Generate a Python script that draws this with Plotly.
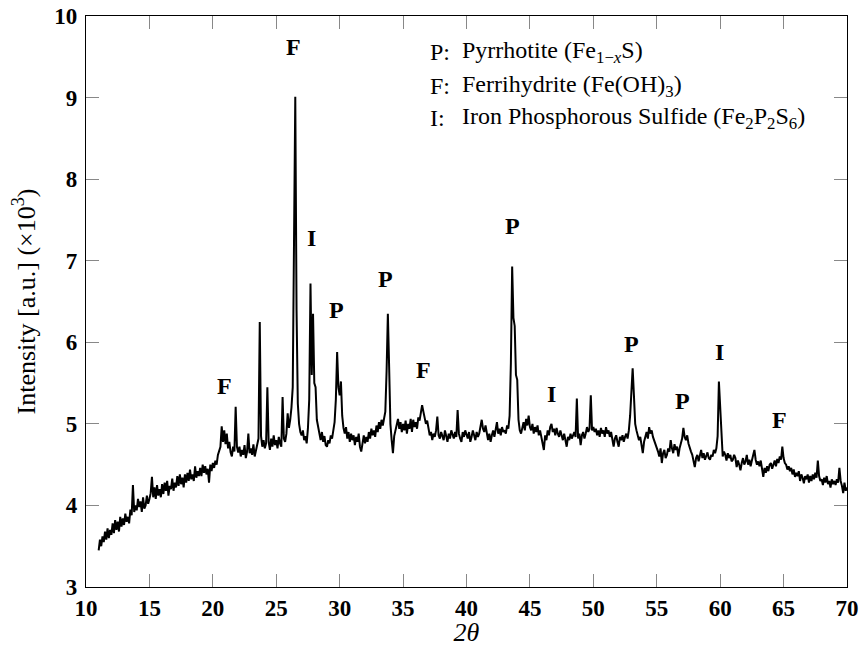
import plotly.graph_objects as go

# Diffractometer scan grid (2θ in degrees)
scan_start = 11.0
scan_step = 0.1

# Intensity (×10^3 a.u.), one row per degree (x.0 ... x.9)
intensity = [
    3.45, 3.58, 3.50, 3.62, 3.55, 3.68, 3.58, 3.72, 3.60, 3.70,   # 11
    3.64, 3.78, 3.66, 3.82, 3.70, 3.80, 3.68, 3.86, 3.74, 3.84,   # 12
    3.76, 3.90, 3.80, 3.86, 3.78, 3.95, 3.88, 4.25, 3.92, 4.00,   # 13
    3.94, 4.08, 3.98, 4.05, 3.92, 4.10, 3.96, 4.00, 4.12, 4.02,   # 14
    4.08, 4.15, 4.35, 4.10, 4.22, 4.08, 4.25, 4.12, 4.20, 4.10,   # 15
    4.26, 4.14, 4.28, 4.18, 4.30, 4.12, 4.24, 4.20, 4.33, 4.18,   # 16
    4.28, 4.22, 4.36, 4.24, 4.38, 4.26, 4.34, 4.22, 4.38, 4.28,   # 17
    4.40, 4.30, 4.44, 4.32, 4.38, 4.30, 4.48, 4.34, 4.42, 4.36,   # 18
    4.46, 4.36, 4.50, 4.40, 4.48, 4.38, 4.45, 4.28, 4.50, 4.42,   # 19
    4.52, 4.46, 4.55, 4.50, 4.62, 4.68, 4.72, 4.97, 4.78, 4.92,   # 20
    4.75, 4.88, 4.70, 4.78, 4.65, 4.60, 4.72, 4.66, 5.21, 4.72,   # 21
    4.65, 4.72, 4.60, 4.68, 4.62, 4.74, 4.58, 4.66, 4.88, 4.64,   # 22
    4.70, 4.62, 4.75, 4.60, 4.68, 4.78, 4.82, 6.25, 4.85, 4.72,   # 23
    4.80, 4.70, 4.76, 5.45, 4.78, 4.68, 4.82, 4.72, 4.86, 4.74,   # 24
    4.80, 4.70, 4.84, 4.76, 4.72, 5.33, 4.82, 4.78, 4.88, 5.13,   # 25
    4.95, 5.05, 5.20, 5.45, 7.40, 9.01, 6.40, 5.25, 5.00, 4.90,   # 26
    4.86, 4.92, 4.80, 4.85, 4.76, 4.95, 5.30, 6.72, 5.60, 6.35,   # 27
    5.50, 5.45, 5.05, 4.95, 4.88, 4.80, 4.90, 4.78, 4.85, 4.74,   # 28
    4.72, 4.80, 4.76, 4.86, 4.82, 4.90, 5.02, 5.30, 5.88, 5.45,   # 29
    5.35, 5.52, 5.10, 4.95, 4.88, 4.96, 4.82, 4.90, 4.78, 4.88,   # 30
    4.80, 4.86, 4.74, 4.84, 4.78, 4.88, 4.72, 4.66, 4.80, 4.86,   # 31
    4.76, 4.84, 4.78, 4.90, 4.82, 4.94, 4.86, 4.92, 4.84, 4.98,   # 32
    4.90, 5.02, 4.94, 5.05, 4.98, 5.10, 5.15, 5.65, 6.35, 5.70,   # 33
    5.00, 4.80, 4.64, 4.85, 4.92, 5.00, 5.06, 4.94, 5.02, 4.90,   # 34
    5.00, 4.92, 5.04, 4.88, 5.00, 4.94, 5.06, 4.90, 5.05, 4.96,   # 35
    5.02, 4.94, 5.08, 5.04, 5.12, 5.23, 5.15, 5.08, 5.00, 5.04,   # 36
    4.92, 4.86, 4.90, 4.80, 4.88, 4.84, 4.92, 5.09, 4.86, 4.82,   # 37
    4.90, 4.84, 4.80, 4.92, 4.86, 4.78, 4.88, 4.82, 4.92, 4.86,   # 38
    4.82, 4.90, 4.84, 5.17, 4.88, 4.82, 4.78, 4.90, 4.84, 4.92,   # 39
    4.86, 4.82, 4.90, 4.78, 4.84, 4.92, 4.86, 4.80, 4.90, 4.84,   # 40
    4.88, 4.96, 5.05, 4.94, 4.90, 4.98, 4.86, 4.80, 4.88, 4.78,   # 41
    4.86, 4.92, 4.84, 4.96, 5.02, 4.88, 4.94, 4.86, 4.96, 4.90,   # 42
    4.92, 4.88, 4.98, 4.94, 5.10, 5.75, 6.93, 6.30, 6.20, 5.60,   # 43
    5.54, 5.05, 4.92, 4.88, 4.96, 5.02, 4.92, 5.06, 4.98, 5.10,   # 44
    4.96, 4.92, 5.00, 4.88, 4.96, 4.90, 4.98, 4.86, 4.92, 4.84,   # 45
    4.80, 4.68, 4.86, 4.80, 4.92, 4.86, 4.96, 5.00, 4.90, 4.94,   # 46
    4.86, 4.95, 4.88, 4.84, 4.92, 4.86, 4.80, 4.88, 4.78, 4.72,   # 47
    4.84, 4.80, 4.88, 4.82, 4.86, 4.90, 4.84, 5.31, 4.82, 4.88,   # 48
    4.74, 4.86, 4.90, 4.82, 4.88, 4.96, 4.90, 4.94, 5.35, 4.92,   # 49
    4.96, 4.90, 4.94, 4.86, 4.92, 4.84, 4.95, 4.88, 4.92, 4.84,   # 50
    4.96, 4.88, 4.92, 4.84, 4.90, 4.80, 4.72, 4.82, 4.86, 4.78,   # 51
    4.72, 4.84, 4.80, 4.86, 4.78, 4.84, 4.88, 4.82, 4.92, 5.10,   # 52
    5.45, 5.68, 5.35, 5.00, 4.92, 4.86, 4.80, 4.84, 4.72, 4.64,   # 53
    4.78, 4.85, 4.90, 4.82, 4.96, 4.88, 4.92, 4.84, 4.80, 4.76,   # 54
    4.70, 4.66, 4.60, 4.70, 4.52, 4.64, 4.68, 4.58, 4.62, 4.70,   # 55
    4.66, 4.80, 4.70, 4.64, 4.75, 4.68, 4.72, 4.60, 4.70, 4.78,   # 56
    4.82, 4.95, 4.84, 4.80, 4.86, 4.76, 4.70, 4.66, 4.62, 4.56,   # 57
    4.47, 4.58, 4.62, 4.54, 4.60, 4.68, 4.58, 4.64, 4.56, 4.62,   # 58
    4.65, 4.58, 4.56, 4.62, 4.60, 4.68, 4.64, 4.70, 4.85, 5.52,   # 59
    5.15, 4.78, 4.60, 4.66, 4.62, 4.55, 4.64, 4.58, 4.62, 4.54,   # 60
    4.56, 4.62, 4.58, 4.47, 4.55, 4.50, 4.43, 4.52, 4.58, 4.50,   # 61
    4.54, 4.62, 4.50, 4.56, 4.48, 4.55, 4.60, 4.68, 4.56, 4.50,   # 62
    4.54, 4.48, 4.55, 4.42, 4.35, 4.46, 4.40, 4.48, 4.42, 4.50,   # 63
    4.52, 4.45, 4.50, 4.55, 4.48, 4.57, 4.52, 4.60, 4.56, 4.72,   # 64
    4.58, 4.52, 4.50, 4.44, 4.48, 4.42, 4.46, 4.38, 4.44, 4.35,   # 65
    4.40, 4.36, 4.42, 4.30, 4.38, 4.34, 4.27, 4.36, 4.32, 4.38,   # 66
    4.28, 4.36, 4.30, 4.38, 4.32, 4.40, 4.34, 4.55, 4.36, 4.30,   # 67
    4.32, 4.25, 4.34, 4.28, 4.36, 4.26, 4.30, 4.22, 4.32, 4.26,   # 68
    4.30, 4.25, 4.32, 4.28, 4.46, 4.30, 4.24, 4.15, 4.28, 4.18,   # 69
    4.22,                                                          # 70
]
two_theta = [round(scan_start + scan_step * i, 2) for i in range(len(intensity))]

peak_labels = ["F", "F", "I", "P", "P", "F", "P", "I", "P", "P", "I", "F"]
peak_x = [20.9, 26.35, 27.77, 29.74, 33.6, 36.6, 43.6, 46.7, 53.0, 57.0, 59.96, 64.66]
peak_y = [5.47, 9.62, 7.28, 6.39, 6.77, 5.66, 7.42, 5.36, 5.98, 5.28, 5.88, 5.05]

legend_keys = ["P:", "F:", "I:"]
legend_names = [
    "Pyrrhotite (Fe<sub>1−<i>x</i></sub>S)",
    "Ferrihydrite (Fe(OH)<sub>3</sub>)",
    "Iron Phosphorous Sulfide (Fe<sub>2</sub>P<sub>2</sub>S<sub>6</sub>)",
]
legend_y = [9.56, 9.14, 8.75]
x_ticks = [10, 15, 20, 25, 30, 35, 40, 45, 50, 55, 60, 65, 70]
y_ticks = [3, 4, 5, 6, 7, 8, 9, 10]

FONT = "Liberation Serif"

fig = go.Figure()
fig.add_trace(go.Scatter(
    x=two_theta, y=intensity, mode="lines",
    line=dict(color="black", width=2.0), showlegend=False,
))

for lab, px, py in zip(peak_labels, peak_x, peak_y):
    fig.add_annotation(x=px, y=py, text=f"<b>{lab}</b>", showarrow=False,
                       font=dict(family=FONT, size=24, color="black"))

for k, name, ly in zip(legend_keys, legend_names, legend_y):
    fig.add_annotation(x=37.0, y=ly, text=k, showarrow=False, xanchor="left",
                       font=dict(family=FONT, size=24, color="black"))
    fig.add_annotation(x=39.45, y=ly, text=name, showarrow=False, xanchor="left",
                       font=dict(family=FONT, size=24, color="black"))

axis_common = dict(
    showline=True, linecolor="black", linewidth=1.2, mirror="ticks",
    ticks="inside", ticklen=13, tickcolor="#888888", tickwidth=1.2,
    showgrid=False, zeroline=False, automargin=False, ticklabeloverflow="allow",
    tickfont=dict(family=FONT, size=23, color="black", weight="bold"),
)

fig.update_xaxes(range=[10, 70], tickvals=x_ticks, ticktext=[str(v) for v in x_ticks],
                 title=dict(text="<i>2θ</i>", font=dict(family=FONT, size=26, color="black"),
                            standoff=0),
                 **axis_common)
fig.update_yaxes(range=[3, 10], tickvals=y_ticks, ticktext=[str(v) for v in y_ticks],
                 ticklabelstandoff=3,
                 title=dict(text="Intensity [a.u.] (×10<sup>3</sup>)",
                            font=dict(family=FONT, size=26, color="black"), standoff=11),
                 **axis_common)

fig.update_layout(
    width=861, height=647,
    margin=dict(l=86, r=14, t=16, b=60),
    paper_bgcolor="white", plot_bgcolor="white",
    font=dict(family=FONT, color="black"),
)

# remove the default page margin so the figure fills the window exactly
fig.write_html("out.html", config={"displayModeBar": False},
               post_script="document.body.style.margin='0';document.body.style.overflow='hidden';")
